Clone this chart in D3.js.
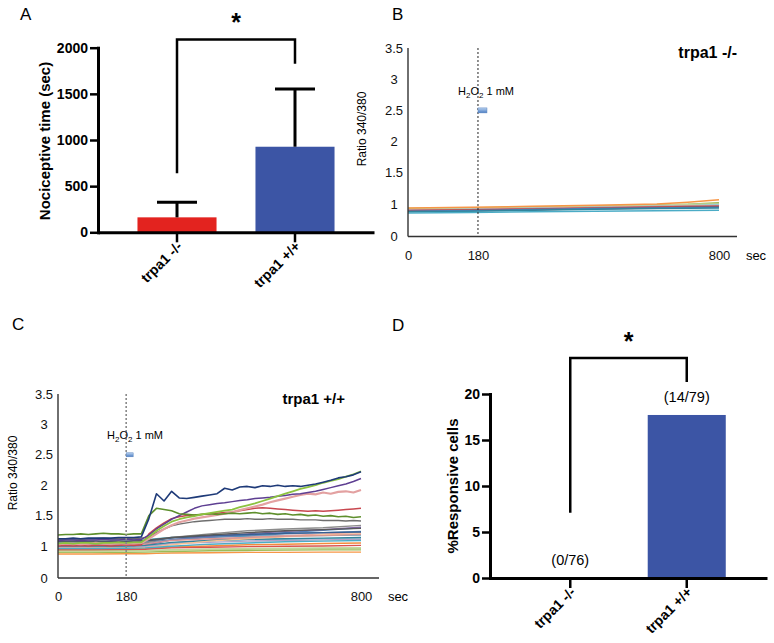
<!DOCTYPE html>
<html><head><meta charset="utf-8">
<script src="https://cdn.jsdelivr.net/npm/d3@7"></script>
<style>
body{margin:0;background:#fff}
svg{display:block}
text{font-family:"Liberation Sans",Arial,Helvetica,sans-serif}
</style>
</head><body>
<svg id="fig" width="774" height="643"></svg>
<script>
// ---------------- DATA ----------------
// Panel A
const categoriesA = ["trpa1 -/-", "trpa1 +/+"];
const meanA = [162, 927];
const semA = [163, 625];
const ticksA = [0, 500, 1000, 1500, 2000];
const bracketA = [640, 2090, 1825];   // left leg end, top, right leg end
const barColors = ["#E3231F", "#3C55A5"];

// Panel D
const categoriesD = ["trpa1 -/-", "trpa1 +/+"];
const percentD = [0, 17.72];
const fractionD = ["(0/76)", "(14/79)"];
const ticksD = [0, 5, 10, 15, 20];
const bracketD = [7.1, 23.9, 21.3];

// Panels B & C (ratio traces)
const ratioTicks = [0, 1, 1.5, 2, 2.5, 3, 3.5];
const timeTicks = [0, 180, 800];
const stimTime = 180;
const stimLevel = 2.5;

const timeB = [0, 160, 320, 480, 640, 720, 800];
const tracesB = [
  [0.84, 0.86, 0.89, 0.92, 0.95, 0.97, 0.99],
  [0.83, 0.85, 0.88, 0.91, 0.93, 0.95, 0.97],
  [0.85, 0.87, 0.90, 0.93, 0.96, 0.98, 1.01],
  [0.86, 0.88, 0.91, 0.94, 0.97, 0.99, 1.02],
  [0.85, 0.87, 0.90, 0.93, 0.96, 0.99, 1.00],
  [0.82, 0.84, 0.87, 0.90, 0.93, 0.95, 0.98],
  [0.81, 0.83, 0.86, 0.89, 0.92, 0.94, 0.95],
  [0.79, 0.81, 0.84, 0.87, 0.90, 0.91, 0.92],
  [0.80, 0.82, 0.85, 0.88, 0.91, 0.92, 0.93],
  [0.77, 0.79, 0.82, 0.85, 0.88, 0.89, 0.91],
  [0.78, 0.80, 0.83, 0.86, 0.88, 0.89, 0.90],
  [0.76, 0.78, 0.81, 0.84, 0.86, 0.87, 0.88],
  [0.72, 0.74, 0.76, 0.78, 0.79, 0.80, 0.81],
  [0.88, 0.90, 0.93, 0.96, 1.00, 1.03, 1.07]
];
const colorsB = ["#E6B9B8", "#B3A2C7", "#A5A5A5", "#9BBB59", "#C3D69B", "#93CDDD", "#D99694",
                 "#8064A2", "#C0504D", "#953735", "#4F81BD", "#31859C", "#4BACC6", "#F79646"];

const timeCoarse = [0, 90, 180, 230, 260, 300, 400, 500, 600, 700, 800];
const lowerC = [
  [1.02, 1.02, 1.03, 1.03, 1.06, 1.10, 1.15, 1.18, 1.22, 1.26, 1.30],
  [1.10, 1.10, 1.10, 1.10, 1.12, 1.14, 1.15, 1.16, 1.17, 1.17, 1.18],
  [1.00, 1.00, 1.01, 1.02, 1.05, 1.10, 1.16, 1.20, 1.24, 1.27, 1.31],
  [0.75, 0.75, 0.76, 0.76, 0.77, 0.78, 0.79, 0.80, 0.80, 0.81, 0.81],
  [0.95, 0.95, 0.96, 0.97, 1.00, 1.05, 1.10, 1.14, 1.17, 1.20, 1.22],
  [0.85, 0.85, 0.86, 0.86, 0.87, 0.88, 0.90, 0.90, 0.91, 0.92, 0.93],
  [1.05, 1.05, 1.06, 1.06, 1.08, 1.10, 1.14, 1.17, 1.20, 1.22, 1.24],
  [0.98, 0.98, 0.99, 1.00, 1.02, 1.05, 1.08, 1.10, 1.11, 1.12, 1.13],
  [0.90, 0.90, 0.91, 0.92, 0.94, 0.97, 1.00, 1.02, 1.03, 1.04, 1.05],
  [1.03, 1.03, 1.04, 1.05, 1.09, 1.14, 1.20, 1.25, 1.28, 1.30, 1.34],
  [0.97, 0.97, 0.98, 0.99, 1.01, 1.04, 1.06, 1.08, 1.09, 1.10, 1.11],
  [1.00, 1.00, 1.00, 1.01, 1.03, 1.06, 1.09, 1.11, 1.12, 1.13, 1.14],
  [0.93, 0.93, 0.94, 0.95, 0.98, 1.02, 1.08, 1.12, 1.15, 1.18, 1.20],
  [0.88, 0.88, 0.89, 0.90, 0.92, 0.94, 0.96, 0.98, 0.99, 1.00, 1.01],
  [1.07, 1.07, 1.07, 1.08, 1.10, 1.13, 1.17, 1.19, 1.21, 1.22, 1.23],
  [0.80, 0.80, 0.80, 0.81, 0.82, 0.83, 0.85, 0.86, 0.87, 0.88, 0.88],
  [1.01, 1.01, 1.02, 1.03, 1.06, 1.09, 1.12, 1.14, 1.16, 1.17, 1.19],
  [0.92, 0.92, 0.93, 0.94, 0.96, 0.99, 1.03, 1.05, 1.07, 1.08, 1.09],
  [1.08, 1.08, 1.08, 1.09, 1.11, 1.14, 1.18, 1.22, 1.25, 1.27, 1.29],
  [0.83, 0.83, 0.84, 0.85, 0.86, 0.88, 0.90, 0.92, 0.93, 0.94, 0.95]
];
const lowerColorsC = ["#4F81BD", "#4BACC6", "#8064A2", "#F79646", "#E6A4A0", "#B5CF8A", "#5F87B8",
                      "#93CDDD", "#F28C3C", "#8C8C8C", "#B3A2C7", "#31859C", "#FAC090", "#D9534F",
                      "#376092", "#9BBB59", "#D99694", "#4BACC6", "#595959", "#C3D69B"];

const timeFine = [0, 20, 40, 60, 80, 100, 120, 140, 160, 180, 200, 220, 240, 260, 280, 300, 320, 340, 360, 380,
                  400, 420, 440, 460, 480, 500, 520, 540, 560, 580, 600, 620, 640, 660, 680, 700, 720, 740, 760, 780, 800];
const grayC = [1.11,1.12,1.12,1.11,1.12,1.12,1.13,1.12,1.12,1.13,1.12,1.13, 1.15,1.22,1.28,1.33,1.36,1.38,1.40,1.41,1.42,1.43,
               1.44,1.44,1.44,1.45,1.44,1.44,1.45,1.44,1.44,1.44, 1.43,1.43,1.43,1.42,1.42,1.42,1.41,1.42,1.41];
const redC = [1.00,1.01,1.00,1.01,1.00,1.01,1.01,1.00,1.01,1.02,1.01,1.02, 1.20,1.30,1.38,1.45,1.48,1.50,1.51,1.52,1.53,1.54,
              1.55,1.56,1.58,1.60,1.62,1.63,1.62,1.61,1.60,1.59, 1.58,1.57,1.58,1.57,1.58,1.59,1.60,1.61,1.62];
const pinkC = [1.03,1.04,1.04,1.03,1.04,1.05,1.04,1.04,1.05,1.04,1.05,1.05, 1.12,1.20,1.28,1.34,1.39,1.42,1.45,1.47,1.49,1.51,
               1.53,1.56,1.59,1.62,1.65,1.68,1.72,1.75,1.78,1.81, 1.84,1.86,1.85,1.88,1.86,1.89,1.90,1.88,1.92];
const purpleC = [1.09,1.10,1.10,1.09,1.10,1.10,1.11,1.10,1.10,1.11,1.10,1.11, 1.18,1.28,1.36,1.44,1.50,1.56,1.62,1.66,1.68,1.70,
                 1.71,1.73,1.75,1.76,1.78,1.79,1.80,1.82,1.83,1.85, 1.86,1.88,1.90,1.93,1.96,1.99,2.02,2.06,2.11];
const oliveC = [1.18,1.19,1.19,1.20,1.19,1.20,1.21,1.20,1.20,1.19,1.20,1.20, 1.50,1.62,1.60,1.58,1.53,1.52,1.51,1.52,1.53,1.52,
                1.53,1.54,1.53,1.54,1.55,1.53,1.54,1.52,1.53,1.51, 1.52,1.50,1.51,1.49,1.50,1.48,1.49,1.47,1.48];
const limeC = [1.04,1.05,1.04,1.05,1.05,1.04,1.05,1.05,1.06,1.05,1.06,1.06, 1.15,1.25,1.33,1.40,1.44,1.47,1.49,1.52,1.54,1.56,
               1.58,1.60,1.64,1.67,1.70,1.74,1.78,1.82,1.86,1.90, 1.94,1.97,2.00,2.04,2.07,2.10,2.14,2.18,2.23];
const navyC = [1.12,1.12,1.13,1.12,1.13,1.13,1.13,1.13,1.14,1.14,1.14,1.15, 1.45,1.86,1.74,1.90,1.79,1.78,1.80,1.82,1.84,1.86,
               1.95,1.92,1.97,1.98,1.96,1.99,1.98,2.00,1.98,1.99, 1.98,2.00,2.02,2.05,2.08,2.12,2.14,2.17,2.22];
const mainC = [grayC, redC, pinkC, purpleC, oliveC, limeC, navyC];
const mainColorsC = ["#6E6E6E", "#C8474F", "#E3A1A1", "#5E3F92", "#5E8F2C", "#8CC23F", "#1E3A78"];
const mainWidthsC = [1.4, 1.5, 2.2, 1.5, 1.6, 1.8, 1.6];

// ---------------- DRAWING ----------------
const svg = d3.select("#fig");
const FONT = '"Liberation Sans",Arial,Helvetica,sans-serif';

// panel letters
[["A", 20, 20], ["B", 392, 20], ["C", 12, 330], ["D", 392, 331]].forEach(([t, x, y]) => {
  svg.append("text").attr("x", x).attr("y", y).attr("font-size", 17).text(t);
});

function barPanel(o) {
  const g = svg.append("g");
  const x = d3.scaleBand().domain(o.cats).range([o.x0, o.x1]).paddingInner(0.33).paddingOuter(o.outer);
  const y = d3.scaleLinear().domain([0, o.ticks[o.ticks.length - 1]]).range([o.y0, o.yTop]);
  // bars
  g.selectAll("rect.bar").data(o.values).join("rect")
    .attr("x", (d, i) => x(o.cats[i])).attr("width", x.bandwidth())
    .attr("y", d => y(d)).attr("height", d => y(0) - y(d))
    .attr("fill", (d, i) => barColors[i]);
  // error bars
  if (o.errors) {
    o.values.forEach((v, i) => {
      const cx = x(o.cats[i]) + x.bandwidth() / 2;
      g.append("line").attr("x1", cx).attr("x2", cx).attr("y1", y(v)).attr("y2", y(v + o.errors[i]))
        .attr("stroke", "#000").attr("stroke-width", 3);
      g.append("line").attr("x1", cx - 20).attr("x2", cx + 20).attr("y1", y(v + o.errors[i])).attr("y2", y(v + o.errors[i]))
        .attr("stroke", "#000").attr("stroke-width", 3);
    });
  }
  // axes
  const ya = g.append("g").attr("transform", `translate(${o.x0},0)`)
    .call(d3.axisLeft(y).tickValues(o.ticks).tickSize(8).tickSizeOuter(0).tickPadding(2).tickFormat(d3.format("d")));
  ya.select(".domain").attr("stroke-width", 3).attr("stroke-linecap", "square");
  ya.selectAll(".tick line").attr("stroke-width", 2.5);
  ya.selectAll("text").attr("font-size", 14).attr("font-weight", "bold").attr("font-family", FONT).attr("fill", "#000");
  const xa = g.append("g").attr("transform", `translate(0,${o.y0})`)
    .call(d3.axisBottom(x).tickSize(10).tickSizeOuter(0));
  xa.select(".domain").attr("stroke-width", 3);
  xa.selectAll(".tick line").attr("stroke-width", 2.5);
  xa.selectAll("text").remove();
  o.cats.forEach(c => {
    const cx = x(c) + x.bandwidth() / 2 + 6;
    g.append("text").attr("transform", `translate(${cx},${o.y0 + 15}) rotate(-45)`)
      .attr("text-anchor", "end").attr("font-size", 14).attr("font-weight", "bold").text(c);
  });
  // y label
  g.append("text").attr("transform", `translate(${o.labelX},${o.labelY}) rotate(-90)`)
    .attr("text-anchor", "middle").attr("font-size", 15).attr("font-weight", "bold").text(o.ylabel);
  // bracket
  const c0 = x(o.cats[0]) + x.bandwidth() / 2, c1 = x(o.cats[1]) + x.bandwidth() / 2;
  g.append("path")
    .attr("d", `M${c0},${y(o.bracket[0])}V${y(o.bracket[1])}H${c1}V${y(o.bracket[2])}`)
    .attr("fill", "none").attr("stroke", "#000").attr("stroke-width", 2.5);
  g.append("text").attr("x", (c0 + c1) / 2).attr("y", y(o.bracket[1]) - 8)
    .attr("text-anchor", "middle").attr("font-size", 25).attr("font-weight", "bold").text("*");
  return { g, x, y };
}

const A = barPanel({ cats: categoriesA, values: meanA, errors: semA, ticks: ticksA, bracket: bracketA,
  x0: 98, x1: 374, outer: 0.3345, y0: 232.3, yTop: 47.7, ylabel: "Nociceptive time (sec)", labelX: 50, labelY: 141 });

const D = barPanel({ cats: categoriesD, values: percentD, ticks: ticksD, bracket: bracketD,
  x0: 490, x1: 767, outer: 0.354, y0: 578, yTop: 394, ylabel: "%Responsive cells", labelX: 458, labelY: 486 });
fractionD.forEach((t, i) => {
  D.g.append("text").attr("x", D.x(categoriesD[i]) + D.x.bandwidth() / 2).attr("y", D.y(percentD[i]) - 13)
    .attr("text-anchor", "middle").attr("font-size", 14.5).text(t);
});

function tracePanel(o) {
  const g = svg.append("g");
  const x = d3.scaleLinear().domain([0, 800]).range([o.x0, o.x800]);
  const y = d3.scaleLinear().domain([0, 1, 3.5]).range([o.y0, o.y1, o.yTop]);
  const line = (times) => d3.line().x((d, i) => x(times[i])).y(d => y(d));
  // traces
  o.sets.forEach(s => {
    s.values.forEach((vals, k) => {
      g.append("path").attr("d", line(s.times)(vals)).attr("fill", "none")
        .attr("stroke", s.colors[k]).attr("stroke-width", s.widths ? s.widths[k] : s.width)
        .attr("stroke-linejoin", "round");
    });
  });
  // stimulus line
  g.append("line").attr("x1", x(stimTime)).attr("x2", x(stimTime)).attr("y1", y(3.5)).attr("y2", o.y0)
    .attr("stroke", o.dashColor).attr("stroke-width", o.dashWidth).attr("stroke-dasharray", "2,2");
  // axes
  g.append("line").attr("x1", o.x0).attr("x2", o.x0).attr("y1", o.y0).attr("y2", y(3.5))
    .attr("stroke", "#333").attr("stroke-width", 1.4);
  g.append("line").attr("x1", o.x0).attr("x2", o.xEnd).attr("y1", o.y0).attr("y2", o.y0)
    .attr("stroke", "#333").attr("stroke-width", 1.4);
  const ya = g.append("g").attr("transform", `translate(${o.x0},0)`)
    .call(d3.axisLeft(y).tickValues(ratioTicks).tickSize(0).tickFormat(d3.format("")));
  ya.select(".domain").remove();
  ya.selectAll("text").attr("x", -14).attr("text-anchor", "middle").attr("font-size", 13)
    .attr("font-family", FONT).attr("fill", "#111");
  const xa = g.append("g").attr("transform", `translate(0,${o.y0})`)
    .call(d3.axisBottom(x).tickValues(timeTicks).tickSize(0).tickPadding(14).tickFormat(d3.format("")));
  xa.select(".domain").remove();
  xa.selectAll("text").attr("font-size", 13).attr("font-family", FONT).attr("fill", "#111");
  g.append("text").attr("x", o.secX).attr("y", o.y0 + 23).attr("text-anchor", "middle").attr("font-size", 13).text("sec");
  // y label
  g.append("text").attr("transform", `translate(${o.labelX},${o.labelY}) rotate(-90)`)
    .attr("text-anchor", "middle").attr("font-size", 12).text("Ratio 340/380");
  // title
  g.append("text").attr("x", o.titleX).attr("y", o.titleY).attr("text-anchor", "end")
    .attr("font-size", o.titleSize).attr("font-weight", "bold").text(o.title);
  // stimulus label
  const lab = g.append("text").attr("x", o.stimLabelX).attr("y", o.stimLabelY).attr("font-size", 11);
  lab.append("tspan").text("H");
  lab.append("tspan").attr("font-size", 8).attr("dy", 3).text("2");
  lab.append("tspan").attr("dy", -3).text("O");
  lab.append("tspan").attr("font-size", 8).attr("dy", 3).text("2");
  lab.append("tspan").attr("dy", -3).text(" 1 mM");
  // stimulus marker
  const gid = "grad" + o.id;
  const grad = svg.append("defs").append("linearGradient").attr("id", gid).attr("x1", 0).attr("x2", 0).attr("y1", 0).attr("y2", 1);
  grad.append("stop").attr("offset", "0%").attr("stop-color", "#B9D2F0");
  grad.append("stop").attr("offset", "100%").attr("stop-color", "#4A7CC2");
  g.append("rect").attr("x", x(stimTime)).attr("y", y(stimLevel) - o.markH / 2)
    .attr("width", o.markW).attr("height", o.markH).attr("fill", `url(#${gid})`)
    .attr("stroke", "#5D86C0").attr("stroke-width", 0.5);
  return { g, x, y };
}

tracePanel({ id: "B", x0: 408, x800: 719, xEnd: 737, y0: 236.5, y1: 204, yTop: 48,
  sets: [{ times: timeB, values: tracesB, colors: colorsB, width: 1.5 }],
  dashColor: "#222", dashWidth: 1,
  secX: 756, labelX: 366, labelY: 129, title: "trpa1 -/-", titleX: 737, titleY: 58, titleSize: 16,
  stimLabelX: 458, stimLabelY: 95, markW: 9, markH: 5 });

tracePanel({ id: "C", x0: 58, x800: 361, xEnd: 379, y0: 578, y1: 546, yTop: 394,
  sets: [{ times: timeCoarse, values: lowerC, colors: lowerColorsC, width: 1.4 },
         { times: timeFine, values: mainC, colors: mainColorsC, widths: mainWidthsC }],
  dashColor: "#8a8a8a", dashWidth: 1.6,
  secX: 398, labelX: 17, labelY: 473, title: "trpa1 +/+", titleX: 345, titleY: 404, titleSize: 15,
  stimLabelX: 107, stimLabelY: 439, markW: 7, markH: 4 });
</script>
</body></html>
